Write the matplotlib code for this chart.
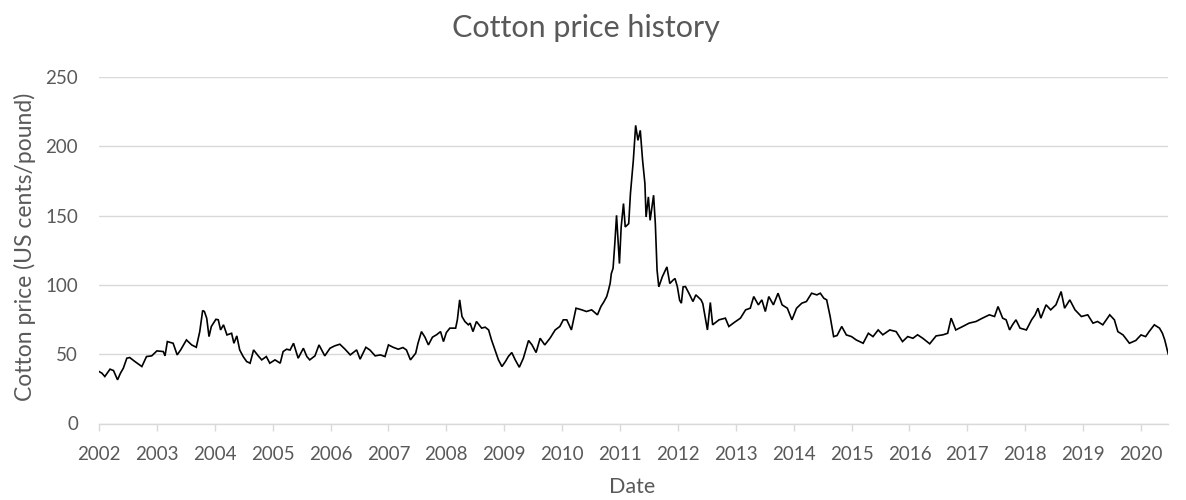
import matplotlib
matplotlib.use("Agg")
import matplotlib.pyplot as plt

# Decimal-year dates and cotton prices (US cents/pound)
dates = [
    2002.00, 2002.05, 2002.10, 2002.19, 2002.25, 2002.32, 2002.37, 2002.42, 2002.48, 2002.53,
    2002.62, 2002.74, 2002.82, 2002.91, 2003.00, 2003.11, 2003.14, 2003.18, 2003.28, 2003.35,
    2003.41, 2003.51, 2003.60, 2003.68, 2003.74, 2003.79, 2003.82, 2003.86, 2003.90, 2003.94,
    2004.02, 2004.06, 2004.10, 2004.15, 2004.21, 2004.29, 2004.33, 2004.38, 2004.43, 2004.49,
    2004.55, 2004.61, 2004.67, 2004.75, 2004.81, 2004.89, 2004.95, 2005.04, 2005.13, 2005.18,
    2005.24, 2005.30, 2005.36, 2005.44, 2005.53, 2005.59, 2005.64, 2005.73, 2005.80, 2005.90,
    2005.99, 2006.07, 2006.16, 2006.25, 2006.34, 2006.45, 2006.51, 2006.61, 2006.68, 2006.77,
    2006.86, 2006.94, 2007.00, 2007.08, 2007.17, 2007.25, 2007.31, 2007.38, 2007.47, 2007.51,
    2007.57, 2007.63, 2007.69, 2007.76, 2007.83, 2007.90, 2007.95, 2008.00, 2008.06, 2008.16,
    2008.19, 2008.23, 2008.27, 2008.32, 2008.38, 2008.41, 2008.46, 2008.52, 2008.61, 2008.67,
    2008.73, 2008.78, 2008.84, 2008.90, 2008.96, 2009.02, 2009.07, 2009.13, 2009.19, 2009.26,
    2009.33, 2009.42, 2009.48, 2009.55, 2009.62, 2009.70, 2009.79, 2009.88, 2009.96, 2010.02,
    2010.08, 2010.16, 2010.24, 2010.34, 2010.42, 2010.51, 2010.61, 2010.67, 2010.72, 2010.77,
    2010.80, 2010.83, 2010.85, 2010.88, 2010.91, 2010.94, 2010.99, 2011.02, 2011.06, 2011.09,
    2011.15, 2011.18, 2011.23, 2011.27, 2011.31, 2011.35, 2011.39, 2011.43, 2011.45, 2011.49,
    2011.52, 2011.58, 2011.61, 2011.64, 2011.67, 2011.73, 2011.81, 2011.86, 2011.92, 2011.95,
    2011.99, 2012.03, 2012.06, 2012.09, 2012.13, 2012.19, 2012.26, 2012.31, 2012.40, 2012.43,
    2012.49, 2012.51, 2012.56, 2012.60, 2012.71, 2012.82, 2012.88, 2012.97, 2013.08, 2013.17,
    2013.25, 2013.31, 2013.39, 2013.45, 2013.51, 2013.57, 2013.65, 2013.73, 2013.80, 2013.89,
    2013.97, 2014.05, 2014.14, 2014.22, 2014.31, 2014.40, 2014.46, 2014.52, 2014.57, 2014.63,
    2014.69, 2014.75, 2014.83, 2014.91, 2015.00, 2015.08, 2015.20, 2015.29, 2015.37, 2015.46,
    2015.54, 2015.66, 2015.77, 2015.88, 2015.97, 2016.06, 2016.14, 2016.23, 2016.35, 2016.46,
    2016.58, 2016.66, 2016.72, 2016.80, 2016.92, 2017.03, 2017.15, 2017.26, 2017.38, 2017.47,
    2017.53, 2017.61, 2017.67, 2017.73, 2017.78, 2017.84, 2017.91, 2018.02, 2018.11, 2018.17,
    2018.22, 2018.27, 2018.36, 2018.44, 2018.53, 2018.62, 2018.68, 2018.77, 2018.86, 2018.97,
    2019.08, 2019.17, 2019.25, 2019.34, 2019.46, 2019.54, 2019.60, 2019.69, 2019.80, 2019.91,
    2020.00, 2020.08, 2020.14, 2020.23, 2020.32, 2020.37, 2020.41, 2020.47,
]
prices = [
    37.5, 36.3, 33.9, 39.2, 38.2, 31.5, 36.3, 39.9, 47.1, 47.6,
    44.7, 41.1, 48.3, 48.8, 52.4, 51.9, 48.8, 59.1, 57.9, 49.5,
    53.1, 60.3, 56.7, 55.0, 66.3, 81.5, 80.8, 76.0, 62.7, 70.0,
    75.2, 74.8, 67.5, 71.2, 63.9, 65.1, 57.9, 63.2, 53.1, 48.3,
    44.7, 43.5, 53.1, 48.8, 45.9, 48.3, 43.5, 45.9, 43.5, 51.9,
    53.6, 53.0, 57.9, 47.1, 54.3, 48.3, 45.9, 48.8, 56.7, 48.8,
    54.3, 56.0, 57.2, 53.6, 49.5, 53.1, 46.4, 55.0, 53.0, 48.8,
    49.5, 48.3, 56.7, 55.0, 53.6, 54.8, 53.1, 45.9, 50.7, 57.9,
    66.3, 62.3, 56.7, 62.3, 64.0, 66.3, 59.1, 65.6, 68.8, 68.8,
    74.8, 89.2, 77.2, 73.6, 71.2, 72.4, 66.3, 73.6, 68.8, 69.5,
    67.5, 60.3, 53.1, 45.9, 41.1, 44.7, 48.3, 51.2, 45.9, 40.6,
    47.1, 59.9, 56.7, 51.2, 61.5, 56.7, 61.5, 67.5, 70.0, 74.8,
    74.8, 67.5, 83.2, 82.0, 80.8, 82.0, 78.4, 84.4, 87.7, 91.6,
    96.1, 101.2, 108.2, 112.0, 129.8, 150.2, 115.4, 141.8, 158.7, 141.8,
    144.2, 165.9, 189.9, 215.1, 204.3, 211.5, 189.9, 173.1, 149.0, 163.5,
    146.6, 164.7, 144.2, 110.6, 98.6, 105.8, 113.0, 101.0, 103.6, 104.6,
    98.8, 88.9, 86.8, 98.6, 98.8, 94.0, 88.0, 92.8, 89.2, 86.5,
    72.4, 67.5, 87.3, 71.2, 74.8, 76.0, 70.0, 72.8, 76.0, 82.0,
    83.2, 91.6, 85.6, 89.2, 80.8, 91.6, 85.6, 94.0, 85.6, 83.2,
    74.8, 83.2, 86.8, 88.0, 94.0, 92.8, 94.0, 90.4, 89.2, 77.2,
    62.7, 63.5, 70.0, 63.9, 62.7, 60.3, 57.9, 65.1, 62.7, 67.5,
    64.0, 67.5, 66.3, 59.1, 62.7, 61.5, 64.0, 61.5, 57.5, 63.2,
    64.0, 65.1, 76.0, 67.5, 70.0, 72.4, 73.6, 76.0, 78.4, 77.2,
    84.4, 76.0, 74.8, 67.5, 71.2, 74.8, 68.8, 67.5, 74.8, 78.4,
    83.2, 76.0, 85.6, 82.0, 85.6, 95.2, 83.2, 89.2, 82.0, 77.2,
    78.4, 72.4, 73.6, 71.2, 78.4, 74.8, 66.3, 63.9, 57.9, 59.9,
    63.9, 62.7, 66.3, 71.2, 68.8, 65.1, 60.3, 50.2,
]
year_ticks = list(range(2002, 2021))
y_ticks = [0, 50, 100, 150, 200, 250]

title = "Cotton price history"
x_label = "Date"
y_label = "Cotton price (US cents/pound)"

TEXT = "#595959"
GRID = "#d9d9d9"
FONT = ["Lato", "DejaVu Sans"]

fig = plt.figure(figsize=(11.86, 5.0), dpi=100)
ax = fig.add_axes([0.0835, 0.153, 0.9015, 0.693])

ax.plot(dates, prices, color="black", linewidth=1.2, solid_joinstyle="miter")

ax.set_xlim(year_ticks[0], dates[-1])
ax.set_ylim(y_ticks[0], y_ticks[-1])
ax.set_xticks(year_ticks)
ax.set_xticklabels([str(y) for y in year_ticks], fontsize=13.5, color=TEXT, family=FONT)
ax.set_yticks(y_ticks)
ax.set_yticklabels([str(v) for v in y_ticks], fontsize=13.5, color=TEXT, family=FONT)

ax.grid(axis="y", color=GRID, linewidth=1.0)
ax.set_axisbelow(True)
for s in ["top", "right", "left"]:
    ax.spines[s].set_visible(False)
ax.spines["bottom"].set_color(GRID)
ax.spines["bottom"].set_linewidth(1.0)

ax.tick_params(axis="x", direction="out", length=5, width=1.0, color=GRID, pad=11)
ax.tick_params(axis="y", length=0, pad=15)

ax.set_xlabel(x_label, fontsize=15.5, color=TEXT, family=FONT)
ax.xaxis.label.set_verticalalignment("center")
ax.xaxis.set_label_coords(0.499, -0.183)
ax.set_ylabel(y_label, fontsize=16.5, color=TEXT, family=FONT)
ax.yaxis.label.set_verticalalignment("center")
ax.yaxis.set_label_coords(-0.0692, 0.509)

fig.text(0.494, 0.943, title, ha="center", va="center", fontsize=22, color=TEXT, family=FONT)

fig.savefig("out.png", dpi=100)
